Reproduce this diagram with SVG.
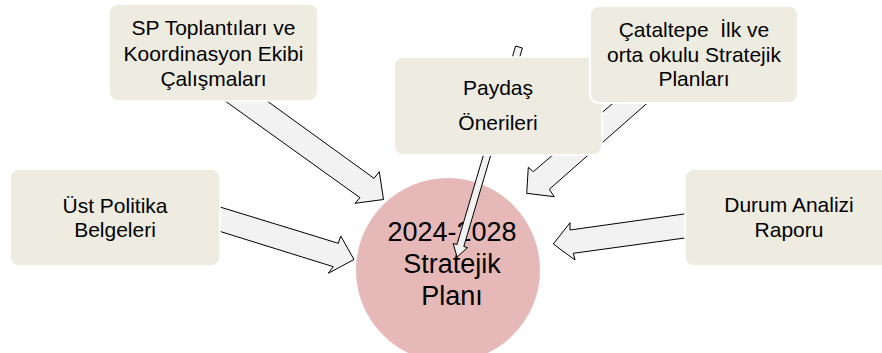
<svg xmlns="http://www.w3.org/2000/svg" width="882" height="353" viewBox="0 0 882 353">
<style>
.box{fill:#EEECE1;stroke:#FFFFFF;stroke-width:1.5}
.lbl{font-family:"Liberation Sans",Arial,sans-serif;font-size:21px;fill:#000;text-anchor:middle;white-space:pre}
.big{font-family:"Liberation Sans",Arial,sans-serif;font-size:27px;fill:#000;text-anchor:middle}
.arr{fill:#F2F2F2;stroke:#000;stroke-width:1;stroke-linejoin:miter}
</style>
<rect width="882" height="353" fill="#FFFFFF"/>
<g id="node-plan">
<circle cx="448" cy="270" r="92" fill="#E6B9B8"/>
<text class="big" x="452" y="241">2024-2028</text>
<text class="big" x="452" y="273">Stratejik</text>
<text class="big" x="452" y="305">Planı</text>
</g>
<g id="connectors">
<polygon class="arr" points="221,98 263,98 374,178.3 379.3,171.7 383.5,199.5 355,203.3 360,197.7"/>
<polygon class="arr" points="219,206.7 338.3,243.3 340.7,236 354,259.5 328.3,273.3 333.3,266.7 219,231.1"/>
<polygon class="arr" points="687,213.6 570,230 570,222.7 553.3,244 575,260 573.3,253.3 687,237.7"/>
<polygon class="arr" points="619,98 653,98 549.3,189.3 554.3,196.7 526.7,193.3 528.3,167.3 533.3,171.7"/>
<polygon class="arr" points="522.4,48 463.8,246.5 467.6,247.6 457,257 453.2,243.4 457,244.5 515.6,46"/>
</g>
<g id="node-sp">
<rect class="box" x="109" y="4" width="209" height="97" rx="9"/>
<text class="lbl" x="213.5" y="35">SP Toplantıları ve</text>
<text class="lbl" x="213.5" y="61">Koordinasyon Ekibi</text>
<text class="lbl" x="213.5" y="86">Çalışmaları</text>
</g>
<g id="node-paydas">
<rect class="box" x="394" y="57" width="208" height="98" rx="9"/>
<text class="lbl" x="498" y="95">Paydaş</text>
<text class="lbl" x="498" y="130">Önerileri</text>
</g>
<g id="node-cataltepe">
<rect class="box" x="590" y="6" width="208" height="97" rx="9" style="stroke-width:2"/>
<text class="lbl" x="694" y="37">Çataltepe  İlk ve</text>
<text class="lbl" x="694" y="62">orta okulu Stratejik</text>
<text class="lbl" x="694" y="86">Planları</text>
</g>
<g id="node-ust">
<rect class="box" x="10" y="169" width="210" height="97" rx="9"/>
<text class="lbl" x="115" y="213">Üst Politika</text>
<text class="lbl" x="115" y="237">Belgeleri</text>
</g>
<g id="node-durum">
<rect class="box" x="685" y="169" width="208" height="97" rx="9"/>
<text class="lbl" x="789" y="212">Durum Analizi</text>
<text class="lbl" x="789" y="237">Raporu</text>
</g>
</svg>
